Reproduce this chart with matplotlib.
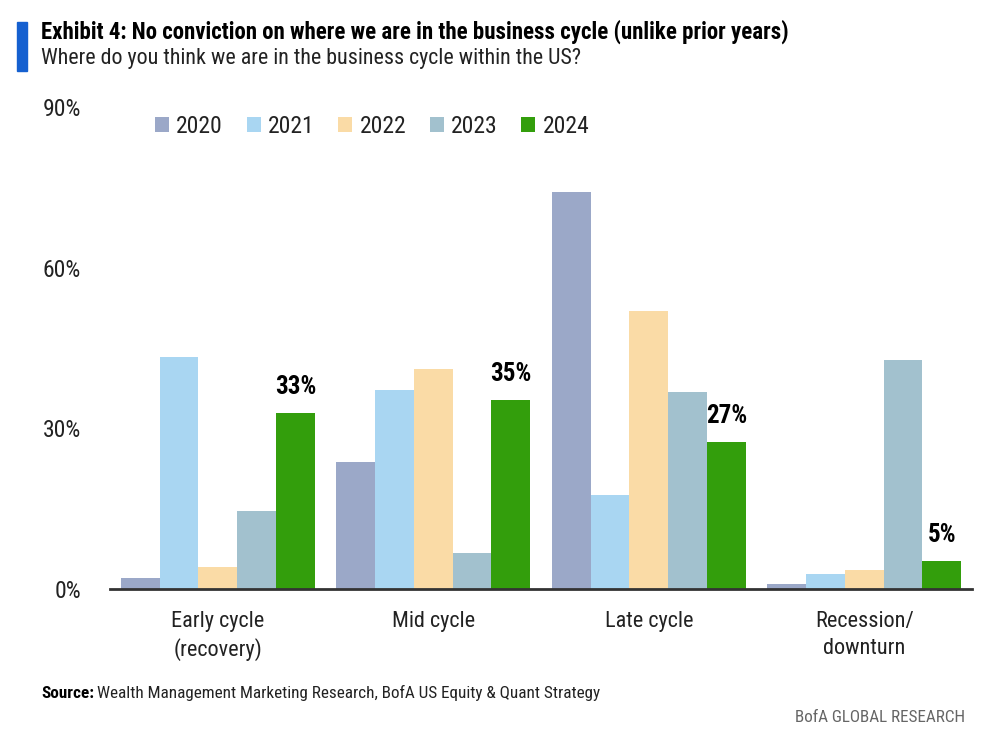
import matplotlib.pyplot as plt
import numpy as np
from matplotlib.patches import Rectangle

# ===============================
# DATA
# ===============================
categories = ["Early cycle\n(recovery)", "Mid cycle", "Late cycle", "Recession/\ndownturn"]
years = ["2020", "2021", "2022", "2023", "2024"]
v2020 = [2.0, 23.7, 74.2, 0.9]
v2021 = [43.4, 37.2, 17.6, 2.8]
v2022 = [4.1, 41.1, 52.0, 3.6]
v2023 = [14.6, 6.7, 36.8, 42.8]
v2024 = [32.9, 35.3, 27.5, 5.2]
labels_2024 = ["33%", "35%", "27%", "5%"]
yticks = [0, 30, 60, 90]

series = [v2020, v2021, v2022, v2023, v2024]
colors = ["#9BA8C8", "#A9D6F2", "#FADBA6", "#A2C1CE", "#339E0C"]

plt.rcParams["font.family"] = ["Roboto Condensed", "Roboto", "DejaVu Sans"]

# ===============================
# PLOT
# ===============================
fig = plt.figure(figsize=(9.84, 7.46), dpi=100)
ax = fig.add_axes([0.1118, 0.2105, 0.876, 0.646])

x = np.arange(len(categories))
w = 0.18
for i, (vals, c, yr) in enumerate(zip(series, colors, years)):
    ax.bar(x + (i - 2) * w, vals, width=w, color=c, label=yr, zorder=2)

# labels on 2024 bars
for xi, v, lab in zip(x, v2024, labels_2024):
    ax.text(xi + 2 * w, v + 2.6, lab, ha="center", va="bottom",
            fontsize=18, fontweight="bold", color="black")

ax.set_xlim(-0.5, 3.5)
ax.set_ylim(0, 90)
ax.set_yticks(yticks)
ax.set_yticklabels([f"{t}%" for t in yticks], fontsize=17, color="#222222")
ax.set_xticks(x)
ax.set_xticklabels(categories, fontsize=16, linespacing=1.35, color="#222222")
ax.tick_params(axis="both", length=0)
ax.tick_params(axis="x", pad=16)
ax.tick_params(axis="y", pad=21)
for s in ["top", "right", "left"]:
    ax.spines[s].set_visible(False)
ax.spines["bottom"].set_color("#333333")
ax.spines["bottom"].set_linewidth(2)
ax.spines["bottom"].set_zorder(3)

leg = fig.legend(loc="center left", bbox_to_anchor=(0.136, 0.831), ncol=5,
                 frameon=False, fontsize=17, handlelength=0.6, handleheight=0.6,
                 handletextpad=0.3, columnspacing=1.0)
for t in leg.get_texts():
    t.set_color("#222222")

# title block
fig.patches.append(Rectangle((0.017, 0.905), 0.01, 0.065, transform=fig.transFigure,
                             color="#1560D0", zorder=5))
fig.text(0.042, 0.957, "Exhibit 4: No conviction on where we are in the business cycle (unlike prior years)",
         fontsize=16.5, fontweight="bold", va="center", ha="left")
fig.text(0.042, 0.921, "Where do you think we are in the business cycle within the US?",
         fontsize=15.8, va="center", ha="left", color="#222222")

# source line
src = fig.text(0.042, 0.071, "Source:", fontsize=12.3, fontweight="bold", va="center", ha="left")
fig.canvas.draw()
bb = src.get_window_extent().transformed(fig.transFigure.inverted())
fig.text(bb.x1 + 0.003, 0.071, "Wealth Management Marketing Research, BofA US Equity & Quant Strategy",
         fontsize=12.3, va="center", ha="left", color="#222222")
fig.text(0.981, 0.038, "BofA GLOBAL RESEARCH", fontsize=12.3, color="#666666",
         va="center", ha="right")

fig.savefig("out.png", dpi=100)
